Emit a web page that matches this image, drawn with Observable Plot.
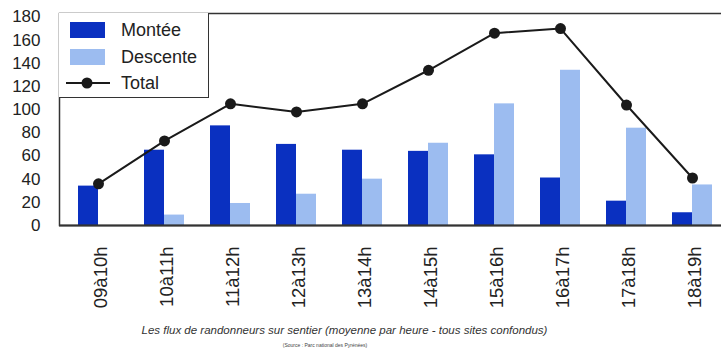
<!DOCTYPE html>
<html lang="fr">
<head>
<meta charset="utf-8">
<script src="https://cdn.jsdelivr.net/npm/d3@7"></script>
<script src="https://cdn.jsdelivr.net/npm/@observablehq/plot@0.6"></script>
<style>
  html, body { margin: 0; padding: 0; background: #fff; overflow: hidden; }
  #wrap { position: relative; width: 721px; height: 356px; overflow: hidden;
          font-family: "Liberation Sans", Arial, Helvetica, sans-serif; color: #222; }
  #wrap svg.plot, #wrap svg { max-width: none !important; }
  .legend { position: absolute; left: 59px; top: 13px; width: 149px; height: 84px;
            border: 1.5px solid #333; border-top: none; border-left: none; background: #fff; }
  .legend .row { position: absolute; left: 0; height: 20px; display: flex; align-items: center; }
  .legend .sw { width: 35px; height: 16px; margin-left: 11px; }
  .legend .lbl { position: absolute; left: 62px; font-size: 18px; white-space: nowrap; color: #222; }
  .legend svg { margin-left: 7px; }
  .caption { position: absolute; left: 0; text-align: center; white-space: nowrap; }
  .caption.main { top: 324px; width: 689px; font-size: 11.5px; font-style: italic; color: #333; }
  .caption.src { top: 342px; width: 650px; font-size: 5px; color: #444; }
</style>
</head>
<body>
<div id="wrap"></div>
<script>
// Hourly time slots on the trail
const slots = ["09à10h", "10à11h", "11à12h", "12à13h", "13à14h", "14à15h", "15à16h", "16à17h", "17à18h", "18à19h"];
// Average hikers per hour going up / coming down, and the total
const montee = [34, 65, 86, 70, 65, 64, 61, 41, 21, 11];
const descente = [0, 9, 19, 27, 40, 71, 105, 134, 84, 35];
const total = [36, 73, 105, 98, 105, 134, 166, 170, 104, 41];
const yTicks = [0, 20, 40, 60, 80, 100, 120, 140, 160, 180];

const seriesNames = ["Montée", "Descente", "Total"];
const colors = { "Montée": "#0a30c0", "Descente": "#9cbcf0", "Total": "#1a1a1a" };

const rows = slots.map((s, i) => ({ slot: s, montee: montee[i], descente: descente[i], total: total[i] }));

const bandPaddingInner = 0.4;
const halfBar = 20;

const chart = Plot.plot({
  width: 730,
  height: 318,
  marginTop: 13,
  marginBottom: 93,
  marginLeft: 59,
  marginRight: 0,
  style: { fontFamily: "Liberation Sans, Arial, Helvetica, sans-serif", color: "#222", background: "#fff" },
  x: { domain: slots, range: [60, 729], paddingInner: bandPaddingInner, paddingOuter: bandPaddingInner / 2 },
  y: { domain: [0, 183] },
  marks: [
    Plot.barY(rows, { x: "slot", y: "montee", fill: colors["Montée"], insetRight: halfBar }),
    Plot.barY(rows, { x: "slot", y: "descente", fill: colors["Descente"], insetLeft: halfBar }),
    Plot.line(rows, { x: "slot", y: "total", stroke: colors["Total"], strokeWidth: 2 }),
    Plot.dot(rows, { x: "slot", y: "total", r: 5.5, fill: colors["Total"] }),
    Plot.frame({ stroke: "#333", strokeWidth: 1.5 }),
    Plot.ruleY([0], { stroke: "#333", strokeWidth: 2 }),
    Plot.axisY({ ticks: yTicks, tickSize: 0, tickPadding: 19, fontSize: 17, label: null }),
    Plot.axisX({ tickRotate: -90, tickSize: 0, tickPadding: 21, fontSize: 18.5, label: null, dx: 3 })
  ]
});

const wrap = document.getElementById("wrap");
wrap.appendChild(chart);

// Legend box in the upper-left corner of the frame
const legend = document.createElement("div");
legend.className = "legend";
const rowTops = [7, 34, 60];
seriesNames.forEach((name, i) => {
  const row = document.createElement("div");
  row.className = "row";
  row.style.top = rowTops[i] + "px";
  if (name === "Total") {
    const ns = "http://www.w3.org/2000/svg";
    const s = document.createElementNS(ns, "svg");
    s.setAttribute("width", 44); s.setAttribute("height", 14);
    const l = document.createElementNS(ns, "line");
    l.setAttribute("x1", 0); l.setAttribute("x2", 44); l.setAttribute("y1", 7); l.setAttribute("y2", 7);
    l.setAttribute("stroke", colors[name]); l.setAttribute("stroke-width", 2);
    const c = document.createElementNS(ns, "circle");
    c.setAttribute("cx", 21); c.setAttribute("cy", 7); c.setAttribute("r", 5.5);
    c.setAttribute("fill", colors[name]);
    s.appendChild(l); s.appendChild(c);
    row.appendChild(s);
  } else {
    const sw = document.createElement("div");
    sw.className = "sw";
    sw.style.background = colors[name];
    row.appendChild(sw);
  }
  const lbl = document.createElement("span");
  lbl.className = "lbl";
  lbl.textContent = name;
  row.appendChild(lbl);
  legend.appendChild(row);
});
wrap.appendChild(legend);

const cap = document.createElement("div");
cap.className = "caption main";
cap.textContent = "Les flux de randonneurs sur sentier (moyenne par heure - tous sites confondus)";
wrap.appendChild(cap);

const src = document.createElement("div");
src.className = "caption src";
src.textContent = "(Source : Parc national des Pyrénées)";
wrap.appendChild(src);
</script>
</body>
</html>
